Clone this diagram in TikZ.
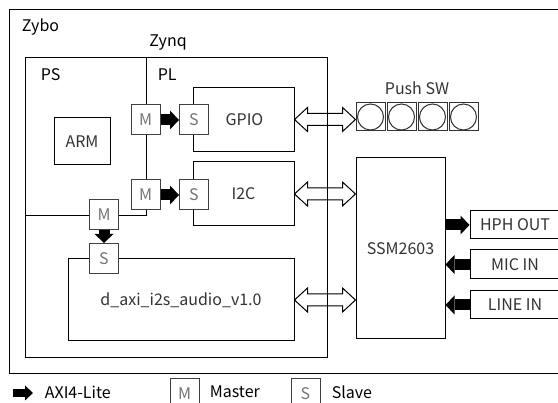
\documentclass[tikz,border=0pt]{standalone}
\usepackage{fontspec}
\setmainfont{Noto Sans CJK JP}
\usetikzlibrary{arrows.meta,calc}

\begin{document}
\begin{tikzpicture}[
            x=1pt, y=-1pt,
            font=\fontsize{16}{18}\selectfont,
            line width=1pt,
            box/.style={draw, fill=white, inner sep=0pt, text=black!80},
            ms/.style={draw=black!75, fill=white, minimum width=29pt, minimum height=30pt, inner sep=0pt, text=black!55},
            btn/.style={draw=black!80, minimum width=29pt, minimum height=28pt, inner sep=0pt,
                path picture={\draw (path picture bounding box.center) circle (13pt);}},
            axi/.style={line width=11pt, -{Triangle[length=9pt,width=19pt,line width=0pt]}},
            bus/.style={draw, fill=white, to path={
                let \p1=(\tikztostart), \p2=(\tikztotarget) in
                (\x1,\y1) -- (\x1+13pt,\y1+12pt) -- (\x1+13pt,\y1+6pt) -- (\x2-13pt,\y1+6pt) -- (\x2-13pt,\y1+12pt)
                -- (\x2,\y1) -- (\x2-13pt,\y1-12pt) -- (\x2-13pt,\y1-6pt) -- (\x1+13pt,\y1-6pt) -- (\x1+13pt,\y1-12pt) -- cycle}}
        ]
        \useasboundingbox (0,0) rectangle (558,403); \clip (0,0) rectangle (558,403);

        % Board and PS/PL split
        \node[draw, anchor=north west, minimum width=561pt, minimum height=364pt] (zybo) at (9,9) {};
        \node[anchor=west] (zybolbl) at (18,27) {Zybo}; \node (zynqlbl) at (168,43) {Zynq};
        \draw (146,57) -- (146,216) -- (25,216);
        \node[anchor=west] (pslbl) at (37,75) {PS}; \node[anchor=west] (pllbl) at (154,75) {PL};

        % Blocks
        \node[box, minimum width=56pt, minimum height=47pt] (arm) at (82,141.5) {ARM};
        \node[box, minimum width=101pt, minimum height=64pt] (gpio) at (243.5,119.5) {\hspace*{2pt}GPIO};
        \node[box, minimum width=101pt, minimum height=64pt] (i2c) at (243.5,194) {I2C};
        \node[box, minimum width=226pt, minimum height=82pt] (daxi) at (181,300) {d\_axi\_i2s\_audio\_v1.0};
        \node[box, minimum width=89pt, minimum height=181pt] (ssm) at (400.5,248.5) {SSM2603};

        % Master / Slave ports
        \node[ms] (m1) at (145.5,120) {M}; \node[ms] (s1) at (194,120) {S};
        \node[ms] (m2) at (145.5,195) {M}; \node[ms] (s2) at (194,195) {S};
        \node[ms] (m3) at (104,214.5) {M}; \node[ms] (s3) at (104,258.5) {S};
        \draw[axi] (m1) -- (s1); \draw[axi] (m2) -- (s2); \draw[axi] (m3) -- (s3);

        % Push switches
        \node[btn] (sw1) at (370.5,117) {}; \node[btn] (sw2) at (401.5,117) {};
        \node[btn] (sw3) at (432.5,117) {}; \node[btn] (sw4) at (463.5,117) {};
        \node[text=black!80] (swlbl) at (417,88) {Push SW};

        % Codec ports
        \node[box, minimum width=90pt, minimum height=28pt] (hph) at (515,225) {HPH OUT};
        \node[box, minimum width=90pt, minimum height=29pt] (mic) at (515,264.5) {MIC IN};
        \node[box, minimum width=90pt, minimum height=28pt] (linein) at (515,305) {LINE IN};
        \draw[axi] (ssm.east |- hph.west) -- (hph.west);
        \draw[axi] (mic.west) -- (mic.west -| ssm.east);
        \draw[axi] (linein.west) -- (linein.west -| ssm.east);

        % Buses
        \draw[bus] (gpio.east) to (gpio.east -| sw1.west);
        \draw[bus] (i2c.east) to (i2c.east -| ssm.west);
        \draw[bus] (daxi.east) to (daxi.east -| ssm.west);
        \node[draw, anchor=north west, minimum width=302pt, minimum height=300pt] (zynq) at (25,57) {};

        % Legend
        \coordinate (lgA) at (13,393); \coordinate (lgB) at (33,393);
        \draw[axi, line width=8pt, -{Triangle[length=8pt,width=15pt,line width=0pt]}] (lgA) -- (lgB);
        \node[anchor=west] (axilbl) at (41,392) {AXI4-Lite};
        \node[ms] (lgm) at (184.5,394) {M}; \node[anchor=west] (mlbl) at (206,392) {Master};
        \node[ms] (lgs) at (305.5,394) {S}; \node[anchor=west] (slbl) at (328,392) {Slave};

    \end{tikzpicture}
\end{document}
